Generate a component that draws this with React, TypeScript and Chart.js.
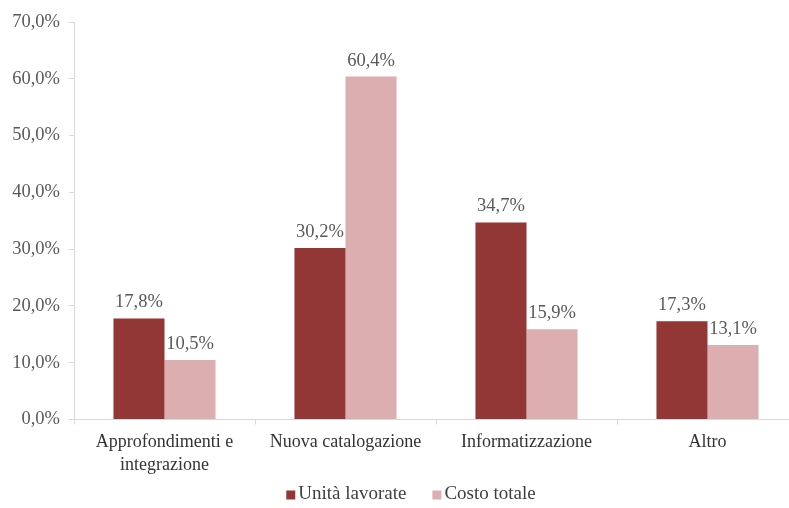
import React, { useEffect, useRef } from "react";
import { Chart, registerables } from "chart.js";

Chart.register(...registerables);

const categories: (string | string[])[] = [
  ["Approfondimenti e", "integrazione"],
  "Nuova catalogazione",
  "Informatizzazione",
  "Altro",
];
const unitaLavorate = [17.8, 30.2, 34.7, 17.3];
const costoTotale = [10.5, 60.4, 15.9, 13.1];
const seriesNames = ["Unità lavorate", "Costo totale"];

const DARK = "#933636";
const LIGHT = "#dcaeb0";
const SERIF = "'Liberation Serif', 'DejaVu Serif', serif";

const fmt = (v: number) => v.toFixed(1).replace(".", ",") + "%";

// Draws each bar's value just above it.
const valueLabels = {
  id: "valueLabels",
  afterDatasetsDraw(chart: any) {
    const { ctx } = chart;
    ctx.save();
    ctx.font = `18.5px ${SERIF}`;
    ctx.fillStyle = "#595959";
    ctx.textAlign = "center";
    ctx.textBaseline = "alphabetic";
    chart.data.datasets.forEach((ds: any, i: number) => {
      const meta = chart.getDatasetMeta(i);
      meta.data.forEach((bar: any, j: number) => {
        ctx.fillText(fmt(ds.data[j]), bar.x, bar.y - 11);
      });
    });
    ctx.restore();
  },
};

// Compact legend below the axis: small square swatch right next to its text.
const compactLegend = {
  id: "compactLegend",
  afterDraw(chart: any) {
    const { ctx } = chart;
    const box = 9;
    const gap = 3;
    const itemGap = 26;
    ctx.save();
    ctx.font = `19px ${SERIF}`;
    ctx.textBaseline = "middle";
    ctx.textAlign = "left";
    const items = chart.data.datasets.map((ds: any) => ({
      text: ds.label,
      color: ds.backgroundColor,
      w: ctx.measureText(ds.label).width,
    }));
    const total =
      items.reduce((s: number, it: any) => s + box + gap + it.w, 0) +
      itemGap * (items.length - 1);
    let x = chart.width / 2 + 6 - total / 2;
    const y = chart.height - 14;
    items.forEach((it: any) => {
      ctx.fillStyle = it.color;
      ctx.fillRect(x, y - box / 2 + 1, box, box);
      x += box + gap;
      ctx.fillStyle = "#404040";
      ctx.fillText(it.text, x, y);
      x += it.w + itemGap;
    });
    ctx.restore();
  },
};

export default function App() {
  const ref = useRef<HTMLCanvasElement>(null);

  useEffect(() => {
    if (!ref.current) return;
    const chart = new Chart(ref.current, {
      type: "bar",
      data: {
        labels: categories,
        datasets: [
          { label: seriesNames[0], data: unitaLavorate, backgroundColor: DARK },
          { label: seriesNames[1], data: costoTotale, backgroundColor: LIGHT },
        ],
      },
      options: {
        animation: false,
        responsive: true,
        maintainAspectRatio: false,
        datasets: { bar: { categoryPercentage: 0.564, barPercentage: 1 } },
        layout: { padding: { top: 22, right: 12, left: 0, bottom: 22.5 } },
        plugins: {
          legend: { display: false },
          tooltip: { enabled: false },
          title: { display: false },
        },
        scales: {
          x: {
            grid: {
              offset: true,
              drawOnChartArea: false,
              drawTicks: true,
              tickLength: 5,
              color: "#d9d9d9",
            },
            border: { color: "#d9d9d9" },
            ticks: {
              color: "#333333",
              padding: 6,
              maxRotation: 0,
              autoSkip: false,
              font: { family: SERIF, size: 18, lineHeight: 1.3 },
            },
            afterFit: (scale: any) => {
              scale.height = 66;
            },
          },
          y: {
            min: 0,
            max: 70,
            grid: {
              drawOnChartArea: false,
              drawTicks: true,
              tickLength: 5,
              color: "#d9d9d9",
            },
            border: { color: "#d9d9d9" },
            ticks: {
              stepSize: 10,
              color: "#595959",
              padding: 9,
              font: { family: SERIF, size: 18.5 },
              callback: (v: any) => fmt(Number(v)),
            },
            afterFit: (scale: any) => {
              scale.width = 74;
            },
          },
        },
      },
      plugins: [valueLabels, compactLegend],
    });
    return () => chart.destroy();
  }, []);

  return (
    <div style={{ position: "fixed", left: 0, top: 0, width: 810, height: 508, background: "#fff" }}>
      <canvas ref={ref} />
    </div>
  );
}
